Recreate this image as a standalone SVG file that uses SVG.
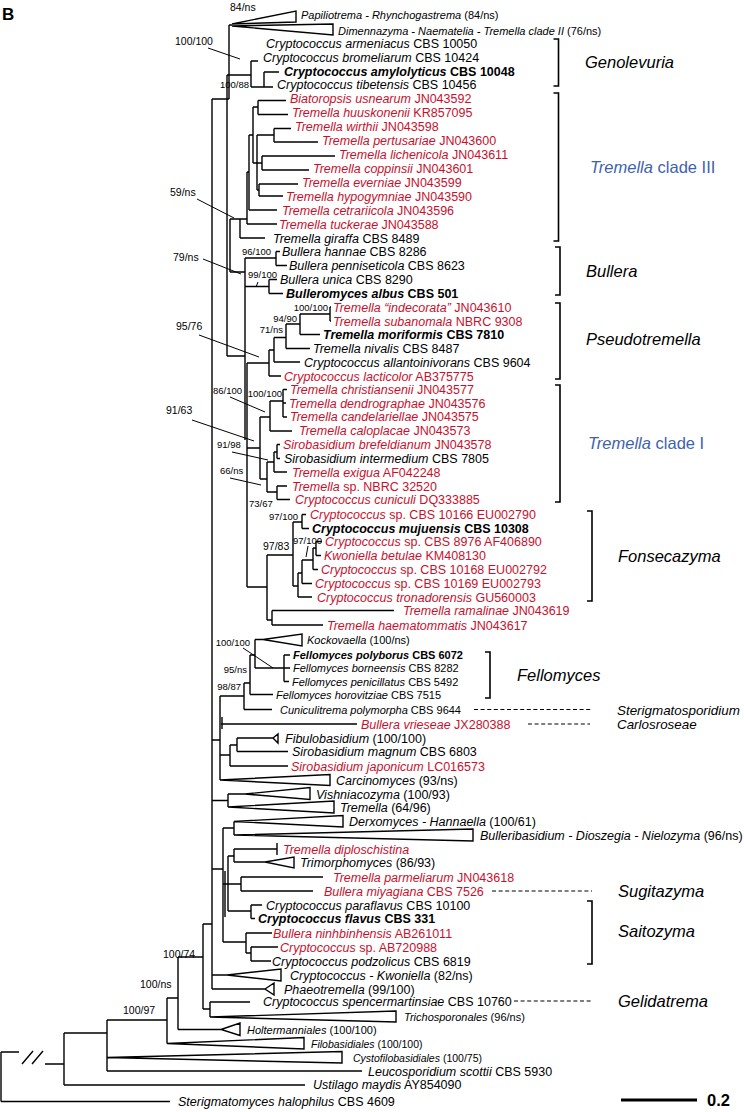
<svg xmlns="http://www.w3.org/2000/svg" width="744" height="1112" viewBox="0 0 744 1112">
<style>
text{font-family:"Liberation Sans",Arial,sans-serif;fill:#000}
.t{font-size:12.5px}.s{font-size:11px}.xs{font-size:10.5px}
.bo{font-size:10.5px}.bi{font-size:9.5px}
.r{fill:#c8102e}.bl{fill:#3e62ad}
.i{font-style:italic}.b{font-weight:bold}
.cl{font-size:16.5px}.cm{font-size:13.4px}
.tree{fill:none;stroke:#000;stroke-width:1.4}
.lead{stroke:#000;stroke-width:1}
.dash{stroke:#000;stroke-width:1.1;stroke-dasharray:4 2.6}
.br{fill:none;stroke:#000;stroke-width:1.6}
</style>
<rect width="744" height="1112" fill="#fff"/>
<text x="2" y="20" class="b" font-size="17">B</text>

<g id="connectors">
<path class="tree" d="
M212,99 V989 M212,99 H229 M229,25 V99 M229,25 H232
M232,24 L296,11 L296,22 Z M232,26 L333,24 L333,35 Z
M227,75 V356 M227,75 H251 M251,61 V87 M251,61 H258 M251,87 H273 M264,72 V87 M264,72 H279
M253,107 V163 M253,107 H258 M258,100.5 V114.5 M258,100.5 H286 M258,114.5 H288
M257,135 V190 M257,135 H274 M274,128.5 V142 M274,128.5 H291 M274,142 H318
M253,163 H262 M262,156 V170 M262,156 H335 M262,170 H309
M257,190 H259 M259,184 V196 M259,184 H298 M259,196 H283
M249,135 V210 M249,135 H253 M249,210 H277
M247,172 V224 M247,172 H249 M247,224 H277
M230,219 V272 M230,219 H247 M240,219 V238 M240,238 H265
M230,272 H245 M245,258 V440 M245,258 H276 M276,251.5 V265.5 M276,251.5 H280 M276,265.5 H287
M245,286.5 H269 M269,279.5 V293.5 M269,279.5 H277 M269,293.5 H283
M227,356 H245 M247,363 V587 M247,363 H269 M269,350 V376 M269,376 H281 M269,350 H274
M274,337.5 V362 M274,362 H300 M274,337.5 H286 M286,324 V348.5 M286,348.5 H310 M286,324 H300
M300,314 V334.5 M300,334.5 H320 M300,314 H330 M330,307 V321 M330,307 H331 M330,321 H331
M247,448 H260 M260,417 V479 M260,417 H270 M270,401 V431 M270,431 H292 M270,401 H283
M283,389.5 V417 M283,389.5 H287 M283,403 H286 M283,417 H287
M260,479 H267 M267,462 V492 M267,462 H274 M274,452 V472 M274,472 H287 M274,452 H277
M277,444.5 V458.5 M277,444.5 H280 M277,458.5 H280
M267,492 H277 M277,486 V499.5 M277,486 H287 M277,499.5 H290
M247,587 H267 M267,555 V620 M267,555 H293 M293,522 V586 M293,522 H302
M302,514.5 V528.5 M302,514.5 H306 M302,528.5 H309
M293,586 H298 M298,573 V597 M298,597 H312 M298,573 H302 M302,560 V583.5 M302,583.5 H312
M302,560 H313 M313,548 V569.5 M313,569.5 H318 M313,548 H316 M316,541.5 V555.5 M316,541.5 H322 M316,555.5 H321
M267,620 H272 M272,610.5 V625 M272,610.5 H394 M272,625 H323
M212,740 H220 M220,696 V780 M220,696 H244 M244,683 V709.5 M244,709.5 H272 M244,683 H250
M250,655 V694.5 M250,694.5 H273 M250,655 H255 M255,639.5 V668 M255,639.5 H263 M255,668 H284
M284,655 V681.5 M284,655 H290 M284,668 H290 M284,681.5 H289
M263,639.5 L302,634 L302,646 Z
M221,724 H357 M222,717 V729
M220,755 H230 M230,745 V766 M230,766 H288 M230,745 H237 M237,738 V751.5 M237,738 H273 M237,751.5 H288
M273,738 L278,734 L278,743 Z
M220,780 L330,774.5 L330,785.5 Z
M212,800.5 H228 M228,794 V807 M228,794 H245
M245,794 L310,787.5 L310,799.5 Z M228,807 L334,801 L334,813 Z
M212,869 H223 M223,828 V942 M223,828 H234 M234,821.5 V835
M234,821.5 L343,815.5 L343,827 Z M234,835 L473,829 L473,841 Z
M228,856 V911 M225,871 V917 M223,884 H241 M228,856 H234 M234,849 V862 M234,849 H277 M277,843 V855 M234,862 H265
M265,862 L294,857 L294,868 Z
M241,877 V891 M241,877 H323 M241,891 H313
M228,911 H251 M251,905 V918.5 M251,905 H262 M251,918.5 H255
M223,942 H246 M246,933 V953 M246,933 H272 M246,953 H251 M251,947 V961 M251,947 H278 M251,961 H271
M212,975 H227 M227,975 L281,969 L281,981 Z
M212,989 H265 M265,989 L274,983 L274,995 Z
M203,924 H212 M203,924 V1009 M178,957 H203 M203,1009 H210 M210,1002 V1017 M210,1002 H250
M210,1017 L396,1011 L396,1022 Z
M178,957 V1029.5 M178,1029.5 H221 M221,1029.5 L240,1023 L240,1035.5 Z
M167,998 H178 M167,998 V1043.5 M167,1043.5 L304,1037.5 L304,1049 Z
M107,1020 H167 M107,1020 V1071 M107,1057.5 L342,1051.5 L342,1063 Z M107,1071 H362
M64,1033 H107 M64,1033 V1085 M64,1085 H305
M1,1052 V1101.5 M1,1052 H19 M22,1064 L33,1051 M32,1064 L43,1051 M45,1064 H64 M1,1101.5 H170
"/>
<g class="lead">
<line x1="208" y1="48" x2="240" y2="59"/>
<line x1="197" y1="199" x2="234" y2="218"/>
<line x1="203" y1="259" x2="241" y2="274"/>
<line x1="199" y1="335" x2="259" y2="357"/>
<line x1="230" y1="397" x2="265" y2="412"/>
<line x1="192" y1="420" x2="254" y2="441"/>
<line x1="232" y1="452" x2="268" y2="460"/>
<line x1="230" y1="478" x2="261" y2="485"/>
<line x1="243" y1="648" x2="273" y2="668"/>
<line x1="308" y1="546" x2="306" y2="557"/>
<line x1="258" y1="282" x2="256" y2="287"/>
</g>
<g class="dash">
<line x1="474" y1="709.5" x2="592" y2="709.5"/>
<line x1="528" y1="724" x2="590" y2="724"/>
<line x1="492" y1="891" x2="592" y2="891"/>
<line x1="514" y1="1001" x2="592" y2="1001"/>
</g>
<path class="br" d="M553.5,39 H558.5 V86 H553.5 M553.5,93 H558.5 V241 H553.5 M555,247 H560 V295 H555 M555,303 H560 V379 H555 M555,385 H560 V502 H555 M587,511 H592 V601 H587 M485,652 H490 V698 H485 M587,901 H592 V964 H587"/>
</g>

<g id="support">
<text class="bo" x="230" y="11">84/ns</text>
<text class="bo" x="175" y="45">100/100</text>
<text class="bi" x="249" y="88" text-anchor="end">100/88</text>
<text class="bo" x="170" y="195.5">59/ns</text>
<text class="bi" x="242" y="255">96/100</text>
<text class="bo" x="173" y="260.5">79/ns</text>
<text class="bi" x="248" y="277.5">99/100</text>
<text class="bi" x="328" y="310.5" text-anchor="end">100/100</text>
<text class="bi" x="297" y="321.5" text-anchor="end">94/90</text>
<text class="bi" x="283" y="332.5" text-anchor="end">71/ns</text>
<text class="bo" x="176" y="330">95/76</text>
<text class="bi" x="213" y="393.5">86/100</text>
<text class="bi" x="282" y="397" text-anchor="end">100/100</text>
<text class="bo" x="166" y="414">91/63</text>
<text class="bi" x="217" y="448">91/98</text>
<text class="bi" x="220" y="473.5">66/ns</text>
<text class="bi" x="249" y="506.5">73/67</text>
<text class="bi" x="298" y="519.5" text-anchor="end">97/100</text>
<text class="bi" x="322" y="543.5" text-anchor="end">97/100</text>
<text class="bo" x="263" y="549.5">97/83</text>
<text class="bi" x="250" y="645.5" text-anchor="end">100/100</text>
<text class="bi" x="247" y="672.5" text-anchor="end">95/ns</text>
<text class="bi" x="241" y="689.5" text-anchor="end">98/87</text>
<text class="bo" x="163" y="958">100/74</text>
<text class="bo" x="140" y="988">100/ns</text>
<text class="bo" x="123" y="1014">100/97</text>
</g>

<g id="n01"><text class="s" x="301" y="19"><tspan class="i">Papiliotrema - Rhynchogastrema</tspan> (84/ns)</text></g>
<g id="n02"><text class="s" x="338" y="34.5"><tspan class="i">Dimennazyma - Naematelia - Tremella clade II</tspan> (76/ns)</text></g>
<g id="n03"><text class="t" x="266" y="48"><tspan class="i">Cryptococcus armeniacus</tspan> CBS 10050</text></g>
<g id="n04"><text class="t" x="263" y="61.5"><tspan class="i">Cryptococcus bromeliarum</tspan> CBS 10424</text></g>
<g id="n05"><text class="t b" x="284" y="75.5"><tspan class="i">Cryptococcus amylolyticus</tspan> CBS 10048</text></g>
<g id="n06"><text class="t" x="277" y="89"><tspan class="i">Cryptococcus tibetensis</tspan> CBS 10456</text></g>
<g id="n07"><text class="t r" x="290" y="103"><tspan class="i">Biatoropsis usnearum</tspan> JN043592</text></g>
<g id="n08"><text class="t r" x="292" y="117"><tspan class="i">Tremella huuskonenii</tspan> KR857095</text></g>
<g id="n09"><text class="t r" x="295" y="131"><tspan class="i">Tremella wirthii</tspan> JN043598</text></g>
<g id="n10"><text class="t r" x="322" y="144.5"><tspan class="i">Tremella pertusariae</tspan> JN043600</text></g>
<g id="n11"><text class="t r" x="339" y="158.5"><tspan class="i">Tremella lichenicola</tspan> JN043611</text></g>
<g id="n12"><text class="t r" x="313" y="172.5"><tspan class="i">Tremella coppinsii</tspan> JN043601</text></g>
<g id="n13"><text class="t r" x="302" y="186.5"><tspan class="i">Tremella everniae</tspan> JN043599</text></g>
<g id="n14"><text class="t r" x="286" y="200.5"><tspan class="i">Tremella hypogymniae</tspan> JN043590</text></g>
<g id="n15"><text class="t r" x="282" y="214.5"><tspan class="i">Tremella cetrariicola</tspan> JN043596</text></g>
<g id="n16"><text class="t r" x="279" y="228.5"><tspan class="i">Tremella tuckerae</tspan> JN043588</text></g>
<g id="n17"><text class="t" x="273" y="242.5"><tspan class="i">Tremella giraffa</tspan> CBS 8489</text></g>
<g id="n18"><text class="t" x="282" y="256"><tspan class="i">Bullera hannae</tspan> CBS 8286</text></g>
<g id="n19"><text class="t" x="289" y="270"><tspan class="i">Bullera penniseticola</tspan> CBS 8623</text></g>
<g id="n20"><text class="t" x="280" y="284"><tspan class="i">Bullera unica</tspan> CBS 8290</text></g>
<g id="n21"><text class="t b" x="286" y="298"><tspan class="i">Bulleromyces albus</tspan> CBS 501</text></g>
<g id="n22"><text class="t r" x="333" y="311.5"><tspan class="i">Tremella “indecorata”</tspan> JN043610</text></g>
<g id="n23"><text class="t r" x="333" y="325.5"><tspan class="i">Tremella subanomala</tspan> NBRC 9308</text></g>
<g id="n24"><text class="t b" x="323" y="339"><tspan class="i">Tremella moriformis</tspan> CBS 7810</text></g>
<g id="n25"><text class="t" x="313" y="353"><tspan class="i">Tremella nivalis</tspan> CBS 8487</text></g>
<g id="n26"><text class="t" x="304" y="366.5"><tspan class="i">Cryptococcus allantoinivorans</tspan> CBS 9604</text></g>
<g id="n27"><text class="t r" x="284" y="380.5"><tspan class="i">Cryptococcus lacticolor</tspan> AB375775</text></g>
<g id="n28"><text class="t r" x="290" y="394"><tspan class="i">Tremella christiansenii</tspan> JN043577</text></g>
<g id="n29"><text class="t r" x="289" y="407.5"><tspan class="i">Tremella dendrographae</tspan> JN043576</text></g>
<g id="n30"><text class="t r" x="290" y="421"><tspan class="i">Tremella candelariellae</tspan> JN043575</text></g>
<g id="n31"><text class="t r" x="299" y="435"><tspan class="i">Tremella caloplacae</tspan> JN043573</text></g>
<g id="n32"><text class="t r" x="283" y="449"><tspan class="i">Sirobasidium brefeldianum</tspan> JN043578</text></g>
<g id="n33"><text class="t" x="284" y="463"><tspan class="i">Sirobasidium intermedium</tspan> CBS 7805</text></g>
<g id="n34"><text class="t r" x="292" y="476.5"><tspan class="i">Tremella exigua</tspan> AF042248</text></g>
<g id="n35"><text class="t r" x="292" y="490.5"><tspan class="i">Tremella</tspan> sp. NBRC 32520</text></g>
<g id="n36"><text class="t r" x="295" y="504"><tspan class="i">Cryptococcus cuniculi</tspan> DQ333885</text></g>
<g id="n37"><text class="t r" x="310" y="519"><tspan class="i">Cryptococcus</tspan> sp. CBS 10166 EU002790</text></g>
<g id="n38"><text class="t b" x="312" y="533"><tspan class="i">Cryptococcus mujuensis</tspan> CBS 10308</text></g>
<g id="n39"><text class="t r" x="325" y="546"><tspan class="i">Cryptococcus</tspan> sp. CBS 8976 AF406890</text></g>
<g id="n40"><text class="t r" x="324" y="560"><tspan class="i">Kwoniella betulae</tspan> KM408130</text></g>
<g id="n41"><text class="t r" x="321" y="574"><tspan class="i">Cryptococcus</tspan> sp. CBS 10168 EU002792</text></g>
<g id="n42"><text class="t r" x="315" y="588"><tspan class="i">Cryptococcus</tspan> sp. CBS 10169 EU002793</text></g>
<g id="n43"><text class="t r" x="317" y="601.5"><tspan class="i">Cryptococcus tronadorensis</tspan> GU560003</text></g>
<g id="n44"><text class="t r" x="403" y="615"><tspan class="i">Tremella ramalinae</tspan> JN043619</text></g>
<g id="n45"><text class="t r" x="327" y="629.5"><tspan class="i">Tremella haematommatis</tspan> JN043617</text></g>
<g id="n46"><text class="s" x="307" y="643.5"><tspan class="i">Kockovaella</tspan> (100/ns)</text></g>
<g id="n47"><text class="s b" x="293" y="659"><tspan class="i">Fellomyces polyborus</tspan> CBS 6072</text></g>
<g id="n48"><text class="s" x="293" y="672"><tspan class="i">Fellomyces borneensis</tspan> CBS 8282</text></g>
<g id="n49"><text class="s" x="292" y="685.5"><tspan class="i">Fellomyces penicillatus</tspan> CBS 5492</text></g>
<g id="n50"><text class="s" x="276" y="698.5"><tspan class="i">Fellomyces horovitziae</tspan> CBS 7515</text></g>
<g id="n51"><text class="s" x="280" y="713.5"><tspan class="i">Cuniculitrema polymorpha</tspan> CBS 9644</text></g>
<g id="n52"><text class="t r" x="361" y="728.5"><tspan class="i">Bullera vrieseae</tspan> JX280388</text></g>
<g id="n53"><text class="t" x="285" y="742.5"><tspan class="i">Fibulobasidium</tspan> (100/100)</text></g>
<g id="n54"><text class="t" x="292" y="756"><tspan class="i">Sirobasidium magnum</tspan> CBS 6803</text></g>
<g id="n55"><text class="t r" x="291" y="770.5"><tspan class="i">Sirobasidium japonicum</tspan> LC016573</text></g>
<g id="n56"><text class="t" x="336" y="784.5"><tspan class="i">Carcinomyces</tspan> (93/ns)</text></g>
<g id="n57"><text class="t" x="316" y="798.5"><tspan class="i">Vishniacozyma</tspan> (100/93)</text></g>
<g id="n58"><text class="t" x="340" y="811.5"><tspan class="i">Tremella</tspan> (64/96)</text></g>
<g id="n59"><text class="t" x="349" y="826"><tspan class="i">Derxomyces - Hannaella</tspan> (100/61)</text></g>
<g id="n60"><text class="t" x="480" y="839.5"><tspan class="i">Bulleribasidium - Dioszegia - Nielozyma</tspan> (96/ns)</text></g>
<g id="n61"><text class="t r" x="283" y="853.5"><tspan class="i">Tremella diploschistina</tspan></text></g>
<g id="n62"><text class="t" x="300" y="866.5"><tspan class="i">Trimorphomyces</tspan> (86/93)</text></g>
<g id="n63"><text class="t r" x="333" y="881.5"><tspan class="i">Tremella parmeliarum</tspan> JN043618</text></g>
<g id="n64"><text class="t r" x="324" y="895.5"><tspan class="i">Bullera miyagiana</tspan> CBS 7526</text></g>
<g id="n65"><text class="t" x="266" y="909.5"><tspan class="i">Cryptococcus paraflavus</tspan> CBS 10100</text></g>
<g id="n66"><text class="t b" x="258" y="923"><tspan class="i">Cryptococcus flavus</tspan> CBS 331</text></g>
<g id="n67"><text class="t r" x="273" y="937.5"><tspan class="i">Bullera ninhbinhensis</tspan> AB261011</text></g>
<g id="n68"><text class="t r" x="280" y="951.5"><tspan class="i">Cryptococcus</tspan> sp. AB720988</text></g>
<g id="n69"><text class="t" x="272" y="965.5"><tspan class="i">Cryptococcus podzolicus</tspan> CBS 6819</text></g>
<g id="n70"><text class="t" x="290" y="979.5"><tspan class="i">Cryptococcus - Kwoniella</tspan> (82/ns)</text></g>
<g id="n71"><text class="t" x="284" y="993.5"><tspan class="i">Phaeotremella</tspan> (99/100)</text></g>
<g id="n72"><text class="t" x="263" y="1006"><tspan class="i">Cryptococcus spencermartinsiae</tspan> CBS 10760</text></g>
<g id="n73"><text class="s" x="404" y="1021"><tspan class="i">Trichosporonales</tspan> (96/ns)</text></g>
<g id="n74"><text class="s" x="247" y="1033.5"><tspan class="i">Holtermanniales</tspan> (100/100)</text></g>
<g id="n75"><text class="xs" x="311" y="1047.5"><tspan class="i">Filobasidiales</tspan> (100/100)</text></g>
<g id="n76"><text class="xs" x="353" y="1061.5"><tspan class="i">Cystofilobasidiales</tspan> (100/75)</text></g>
<g id="n77"><text class="t" x="368" y="1075.5"><tspan class="i">Leucosporidium scottii</tspan> CBS 5930</text></g>
<g id="n78"><text class="t" x="313" y="1089"><tspan class="i">Ustilago maydis</tspan> AY854090</text></g>
<g id="n79"><text class="t" x="178" y="1106"><tspan class="i">Sterigmatomyces halophilus</tspan> CBS 4609</text></g>

<g id="clades">
<text class="cl i" x="585" y="68">Genolevuria</text>
<text class="cl bl" x="590" y="173"><tspan class="i">Tremella</tspan> clade III</text>
<text class="cl i" x="586" y="277">Bullera</text>
<text class="cl i" x="586" y="345">Pseudotremella</text>
<text class="cl bl" x="588" y="449"><tspan class="i">Tremella</tspan> clade I</text>
<text class="cl i" x="618" y="562">Fonsecazyma</text>
<text class="cl i" x="517" y="681">Fellomyces</text>
<text class="cm i" x="617" y="714.5">Sterigmatosporidium</text>
<text class="cm i" x="617" y="729">Carlosroseae</text>
<text class="cl i" x="618" y="897">Sugitazyma</text>
<text class="cl i" x="618" y="937">Saitozyma</text>
<text class="cl i" x="618" y="1007">Gelidatrema</text>
</g>

<g id="scale">
<line x1="621" y1="1100" x2="697" y2="1100" stroke="#000" stroke-width="3"/>
<text x="707" y="1106" class="b" font-size="16.5">0.2</text>
</g>
</svg>
